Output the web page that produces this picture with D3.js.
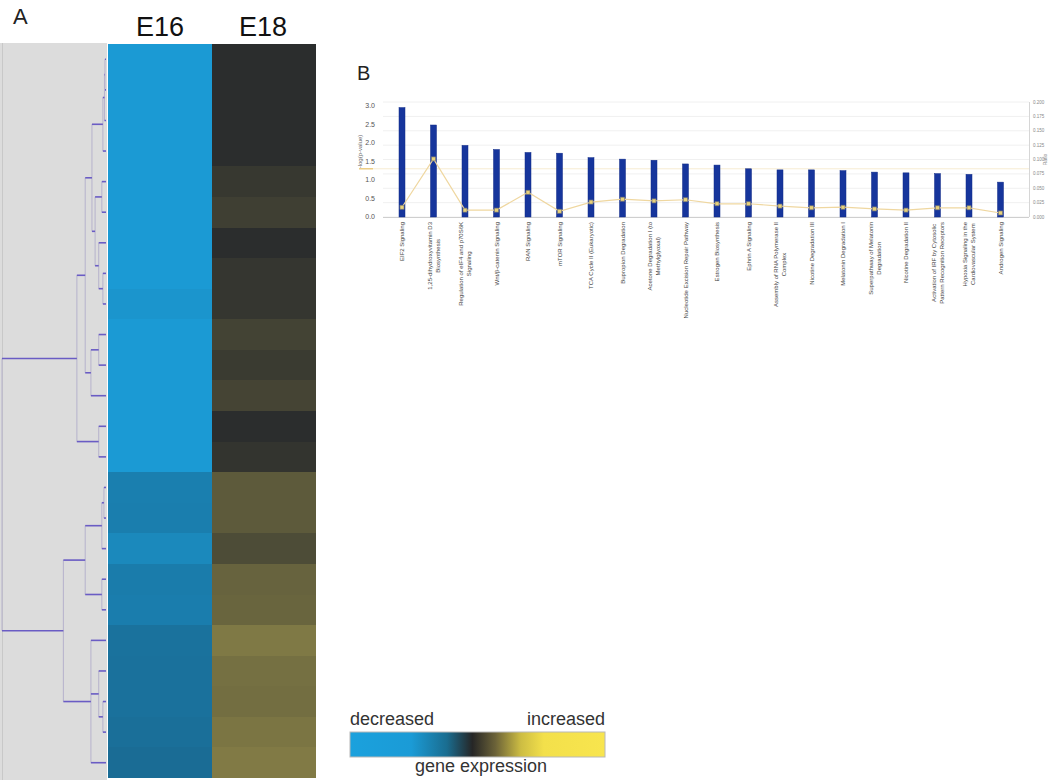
<!DOCTYPE html>
<html>
<head>
<meta charset="utf-8">
<script src="https://cdn.jsdelivr.net/npm/d3@7"></script>
<style>
  body { margin: 0; background: #ffffff; }
  svg { display: block; font-family: "Liberation Sans", Arial, sans-serif; }
</style>
</head>
<body>
<script>
// ---------------- DATA ----------------
// Panel A: heatmap (negative = decreased, positive = increased)
const samples = ["E16", "E18"];
const valuesE16 = [-0.97, -0.97, -0.97, -0.97, -0.97, -0.97, -0.97, -0.97, -0.92, -0.97, -0.97, -0.97, -0.97, -0.97,
                   -0.71, -0.70, -0.80, -0.68, -0.69, -0.58, -0.57, -0.57, -0.55, -0.52];
const valuesE18 = [0.00, 0.00, 0.00, 0.00, 0.06, 0.10, 0.00, 0.05, 0.05, 0.12, 0.075, 0.13, 0.00, 0.04,
                   0.25, 0.25, 0.17, 0.30, 0.31, 0.42, 0.37, 0.36, 0.40, 0.43];
// Dendrogram (leaves = row indices, d = merge distance)
const dendroTop = {d: 0.28, c: [
  {d: 0.2, c: [
    {d: 0.135, c: [
      {d: 0.03, c: [{d: 0.015, c: [{d: 0.01, c: [0, 1]}, 2]}, 3]},
      {d: 0.105, c: [
        {d: 0.04, c: [4, 5]},
        {d: 0.07, c: [6, {d: 0.03, c: [7, 8]}]}
      ]}
    ]},
    {d: 0.145, c: [{d: 0.07, c: [9, 10]}, 11]}
  ]},
  {d: 0.07, c: [12, 13]}
]};
const dendroBottom = {d: 0.41, c: [
  {d: 0.2, c: [{d: 0.04, c: [{d: 0.02, c: [14, 15]}, 16]}, {d: 0.04, c: [17, 18]}]},
  {d: 0.145, c: [19, {d: 0.07, c: [20, {d: 0.03, c: [21, 22]}]}, 23]}
]};
const dendroRoot = {d: 1.0, c: [dendroTop, dendroBottom]};

// Legend
const legendLabels = ["decreased", "increased", "gene expression"];

// Panel B: canonical pathways
const pathways = [
  "EIF2 Signaling",
  "1,25-dihydroxyvitamin D3\nBiosynthesis",
  "Regulation of eIF4 and p70S6K\nSignaling",
  "Wnt/β-catenin Signaling",
  "RAN Signaling",
  "mTOR Signaling",
  "TCA Cycle II (Eukaryotic)",
  "Bupropion Degradation",
  "Acetone Degradation I (to\nMethylglyoxal)",
  "Nucleotide Excision Repair Pathway",
  "Estrogen Biosynthesis",
  "Ephrin A Signaling",
  "Assembly of RNA Polymerase II\nComplex",
  "Nicotine Degradation III",
  "Melatonin Degradation I",
  "Superpathway of Melatonin\nDegradation",
  "Nicotine Degradation II",
  "Activation of IRF by Cytosolic\nPattern Recognition Receptors",
  "Hypoxia Signaling in the\nCardiovascular System",
  "Androgen Signaling"
];
const negLogP = [2.95, 2.48, 1.93, 1.82, 1.74, 1.72, 1.60, 1.56, 1.53, 1.43,
                 1.40, 1.30, 1.27, 1.27, 1.25, 1.21, 1.19, 1.17, 1.15, 0.94];
const ratio = [0.017, 0.101, 0.012, 0.012, 0.043, 0.010, 0.026, 0.031, 0.028, 0.030,
               0.023, 0.023, 0.019, 0.016, 0.017, 0.014, 0.012, 0.016, 0.016, 0.007];
const threshold = 1.3;
const leftTicks = [0, 0.5, 1.0, 1.5, 2.0, 2.5, 3.0];
const rightTicks = [0, 0.025, 0.05, 0.075, 0.1, 0.125, 0.15, 0.175, 0.2];

// ---------------- DRAW ----------------
const svg = d3.select("body").append("svg").attr("width", 1050).attr("height", 780);

// ===== Panel A =====
svg.append("text").attr("x", 13).attr("y", 24).attr("font-size", 22).attr("fill", "#222").text("A");

const hmTop = 44, hmBottom = 778;
const yRow = d3.scaleBand().domain(d3.range(valuesE16.length)).range([hmTop, hmBottom]).padding(0);
const xCol = d3.scaleBand().domain(samples).range([107, 316]).padding(0).round(true);
const color = d3.scaleLinear()
  .domain([-1, -0.5, 0, 0.5, 1])
  .range(["#1b9dd8", "#1a6a92", "#2b2d2d", "#8f8749", "#f3df4f"])
  .clamp(true);

// dendrogram panel background
svg.append("rect").attr("x", 0).attr("y", 43).attr("width", 107).attr("height", 737).attr("fill", "#dcdcdc");
svg.append("line").attr("x1", 2.5).attr("x2", 2.5).attr("y1", 43).attr("y2", 780)
  .attr("stroke", "#c8c8c8").attr("stroke-width", 1);

// heatmap
const rows = d3.range(valuesE16.length);
[valuesE16, valuesE18].forEach((vals, si) => {
  svg.append("g").attr("shape-rendering", "crispEdges").selectAll("rect").data(rows).join("rect")
    .attr("x", xCol(samples[si]))
    .attr("y", i => Math.round(yRow(i)))
    .attr("width", xCol.bandwidth())
    .attr("height", i => Math.round(yRow(i) + yRow.bandwidth()) - Math.round(yRow(i)))
    .attr("fill", i => color(vals[i]));
});
svg.selectAll("text.col").data(samples).join("text").attr("class", "col")
  .attr("x", s => xCol(s) + xCol.bandwidth() / 2 + (s === "E16" ? 0 : -1))
  .attr("y", 36).attr("text-anchor", "middle").attr("font-size", 27).attr("fill", "#111")
  .text(s => s);

// dendrogram
const dx = d3.scaleLinear().domain([0, 1]).range([106, 2]);
const gD = svg.append("g");
function drawNode(node) {
  if (typeof node === "number") {
    return {x: dx(0), y: yRow(node) + yRow.bandwidth() / 2};
  }
  const kids = node.c.map(drawNode);
  const x = dx(node.d);
  const y = (kids[0].y + kids[kids.length - 1].y) / 2;
  gD.append("line").attr("x1", x).attr("x2", x)
    .attr("y1", kids[0].y).attr("y2", kids[kids.length - 1].y)
    .attr("stroke", "#b6b2cc").attr("stroke-width", 1);
  kids.forEach(k => {
    gD.append("line").attr("x1", x).attr("x2", k.x).attr("y1", k.y).attr("y2", k.y)
      .attr("stroke", "#6a5cc4").attr("stroke-width", 1.6);
  });
  return {x, y};
}
drawNode(dendroRoot);

// legend
const defs = svg.append("defs");
const grad = defs.append("linearGradient").attr("id", "legGrad").attr("x1", "0%").attr("x2", "100%");
const legStops = [[0, "#1ba1dd"], [0.24, "#1b9bd6"], [0.38, "#1a6d90"], [0.48, "#262626"],
                  [0.57, "#6b6238"], [0.67, "#cdbd43"], [0.76, "#f3e04b"], [1, "#f8e54e"]];
legStops.forEach(s => grad.append("stop").attr("offset", s[0]).attr("stop-color", s[1]));
svg.append("rect").attr("x", 350).attr("y", 732).attr("width", 255).attr("height", 25)
  .attr("fill", "url(#legGrad)").attr("stroke", "#b8b8b8").attr("stroke-width", 1);
svg.append("text").attr("x", 350).attr("y", 725).attr("font-size", 18).attr("fill", "#333").text(legendLabels[0]);
svg.append("text").attr("x", 605).attr("y", 725).attr("text-anchor", "end").attr("font-size", 18).attr("fill", "#333").text(legendLabels[1]);
svg.append("text").attr("x", 481).attr("y", 772).attr("text-anchor", "middle").attr("font-size", 18).attr("fill", "#333").text(legendLabels[2]);

// ===== Panel B =====
svg.append("text").attr("x", 357).attr("y", 80).attr("font-size", 20).attr("fill", "#222").text("B");

const pLeft = 383, pRight = 1029, pTop = 102, pBottom = 217;
const x = d3.scalePoint().domain(pathways).range([402, 1000.5]);
const yL = d3.scaleLinear().domain([0, 3.1]).range([pBottom, pTop]);
const yR = d3.scaleLinear().domain([0, 0.2]).range([pBottom, pTop]);

// gridlines (right axis)
svg.append("g").selectAll("line").data(rightTicks).join("line")
  .attr("x1", pLeft).attr("x2", pRight).attr("y1", d => yR(d)).attr("y2", d => yR(d))
  .attr("stroke", "#f0f0f0").attr("stroke-width", 1);
// frame lines
svg.append("line").attr("x1", pLeft).attr("x2", pRight).attr("y1", pBottom + 0.5).attr("y2", pBottom + 0.5)
  .attr("stroke", "#cfcfcf");
svg.append("line").attr("x1", pRight + 0.5).attr("x2", pRight + 0.5).attr("y1", pTop).attr("y2", pBottom)
  .attr("stroke", "#d6d6d6");

// threshold
svg.append("line").attr("x1", 373).attr("x2", pRight).attr("y1", yL(threshold)).attr("y2", yL(threshold))
  .attr("stroke", "#f7ecd2").attr("stroke-width", 1);
svg.append("line").attr("x1", 359).attr("x2", 373).attr("y1", yL(threshold)).attr("y2", yL(threshold))
  .attr("stroke", "#eccd85").attr("stroke-width", 1.5);

// bars
svg.append("g").selectAll("rect").data(pathways).join("rect")
  .attr("x", (p) => x(p) - 3)
  .attr("y", (p, i) => yL(negLogP[i]))
  .attr("width", 6)
  .attr("height", (p, i) => yL(0) - yL(negLogP[i]))
  .attr("fill", "#16359c").attr("stroke", "#132d88").attr("stroke-width", 0.5);

// ratio line
const line = d3.line().x((d, i) => x(pathways[i])).y(d => yR(d));
svg.append("path").datum(ratio).attr("d", line).attr("fill", "none")
  .attr("stroke", "#efd7a0").attr("stroke-width", 1.2);
svg.append("g").selectAll("rect").data(ratio).join("rect")
  .attr("x", (d, i) => x(pathways[i]) - 2).attr("y", d => yR(d) - 2)
  .attr("width", 4).attr("height", 4)
  .attr("fill", "#e8d27a").attr("stroke", "#7a7a7a").attr("stroke-width", 0.7);

// left axis
const gL = svg.append("g").attr("transform", `translate(${pLeft - 8},0)`);
gL.selectAll("text").data(leftTicks).join("text")
  .attr("x", 0).attr("y", d => yL(d)).attr("dy", "0.35em").attr("text-anchor", "end")
  .attr("font-size", 7).attr("fill", "#555").text(d => d3.format(".1f")(d));
svg.append("text").attr("transform", `translate(362,${(pTop + pBottom) / 2 - 8}) rotate(-90)`)
  .attr("text-anchor", "middle").attr("font-size", 6).attr("fill", "#666").text("-log(p-value)");

// right axis
const gR = svg.append("g").attr("transform", `translate(${pRight + 4},0)`);
gR.selectAll("text").data(rightTicks).join("text")
  .attr("x", 0).attr("y", d => yR(d)).attr("dy", "0.35em").attr("text-anchor", "start")
  .attr("font-size", 4.5).attr("fill", "#888").text(d => d3.format(".3f")(d));
svg.append("text").attr("transform", `translate(1047,${yR(0.1)}) rotate(-90)`)
  .attr("text-anchor", "middle").attr("font-size", 5).attr("fill", "#888").text("Ratio");

// category labels (rotated)
const labelTop = 222, lineH = 8;
const gLab = svg.append("g");
pathways.forEach(p => {
  const lines = p.split("\n");
  const g = gLab.append("g").attr("transform", `translate(${x(p)},${labelTop}) rotate(-90)`);
  const texts = lines.map((ln, i) => g.append("text")
    .attr("y", (i - (lines.length - 1) / 2) * lineH)
    .attr("dy", "0.35em")
    .attr("font-size", 6).attr("fill", "#444").text(ln));
  const maxLen = d3.max(texts, t => t.node().getComputedTextLength());
  texts.forEach(t => t.attr("x", -maxLen / 2).attr("text-anchor", "middle"));
});
</script>
</body>
</html>
